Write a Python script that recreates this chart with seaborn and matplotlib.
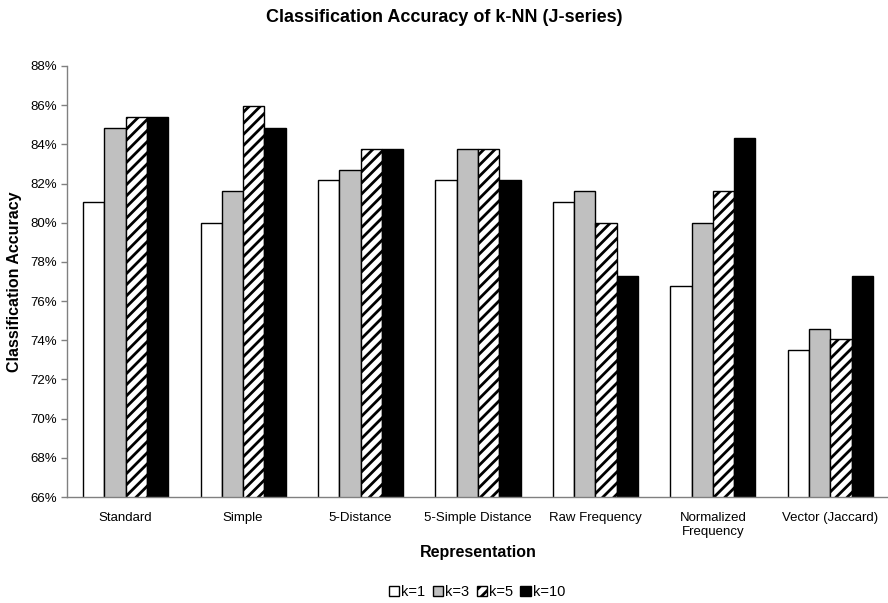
import matplotlib
matplotlib.use("Agg")
import matplotlib.pyplot as plt
import matplotlib.ticker as mticker
from matplotlib.patches import Patch
import seaborn as sns
import pandas as pd

categories = ["Standard", "Simple", "5-Distance", "5-Simple Distance",
              "Raw Frequency", "Normalized\nFrequency", "Vector (Jaccard)"]
series_names = ["k=1", "k=3", "k=5", "k=10"]
k1 = [81.08, 80.00, 82.16, 82.16, 81.08, 76.76, 73.51]
k3 = [84.86, 81.62, 82.70, 83.78, 81.62, 80.00, 74.59]
k5 = [85.41, 85.95, 83.78, 83.78, 80.00, 81.62, 74.05]
k10 = [85.41, 84.86, 83.78, 82.16, 77.30, 84.32, 77.30]
yticks = [66, 68, 70, 72, 74, 76, 78, 80, 82, 84, 86, 88]

rows = []
for name, vals in zip(series_names, [k1, k3, k5, k10]):
    for c, v in zip(categories, vals):
        rows.append({"Representation": c, "k": name, "acc": v})
df = pd.DataFrame(rows)

sns.set_theme(style="white")
plt.rcParams['font.family'] = ['Liberation Sans', 'DejaVu Sans']
plt.rcParams['hatch.linewidth'] = 2.0
for key in ["text.color", "axes.labelcolor", "xtick.color", "ytick.color"]:
    plt.rcParams[key] = "black"

fig = plt.figure(figsize=(8.88, 6.03), dpi=100)
ax = fig.add_axes([67/888, 1-497/603, 822/888, 431/603])

styles = {
    "k=1": dict(fc="white", hatch=None),
    "k=3": dict(fc="#C0C0C0", hatch=None),
    "k=5": dict(fc="white", hatch="///"),
    "k=10": dict(fc="black", hatch=None),
}

sns.barplot(data=df, x="Representation", y="acc", hue="k", hue_order=series_names,
            order=categories, width=0.725, gap=0, ax=ax, legend=False,
            palette=["white", "#C0C0C0", "white", "black"], saturation=1,
            edgecolor="black", linewidth=1)

for name, cont in zip(series_names, ax.containers):
    st = styles[name]
    for p in cont:
        p.set_facecolor(st["fc"])
        p.set_edgecolor("black")
        p.set_linewidth(1)
        if st["hatch"]:
            p.set_hatch(st["hatch"])

ax.set_ylim(66, 88)
ax.set_xlim(-0.5, len(categories) - 0.5)
ax.set_yticks(yticks)
ax.yaxis.set_major_formatter(mticker.FuncFormatter(lambda v, p: f"{v:.0f}%"))

for s in ["top", "right"]:
    ax.spines[s].set_visible(False)
for s in ["left", "bottom"]:
    ax.spines[s].set_color("#808080")
    ax.spines[s].set_linewidth(1)

ax.tick_params(axis="y", which="major", left=True, length=4, width=1,
               color="#808080", labelcolor="black", labelsize=9.5, pad=3)
ax.tick_params(axis="x", length=0, labelcolor="black", labelsize=9.5, pad=11)

ax.set_xlabel("Representation", fontsize=11.5, fontweight="bold", color="black")
ax.set_ylabel("Classification Accuracy", fontsize=11.5, fontweight="bold", color="black")
ax.xaxis.set_label_coords(0.5, (497-545)/431)
ax.yaxis.set_label_coords((22-67)/822, 0.5)

fig.text(0.5, 1-18/603, "Classification Accuracy of k-NN (J-series)",
         ha="center", va="center", fontsize=13, fontweight="bold", color="black")

handles = []
for name in series_names:
    st = styles[name]
    handles.append(Patch(facecolor=st["fc"], edgecolor="black", linewidth=1,
                         hatch=st["hatch"], label=name))
fig.legend(handles=handles, loc="center", bbox_to_anchor=(477/888, 1-592/603),
           ncol=4, frameon=False, fontsize=10.5, handlelength=0.7,
           handleheight=0.7, handletextpad=0.15, columnspacing=0.5,
           borderaxespad=0, labelcolor="black")

fig.savefig("out.png", dpi=100)
